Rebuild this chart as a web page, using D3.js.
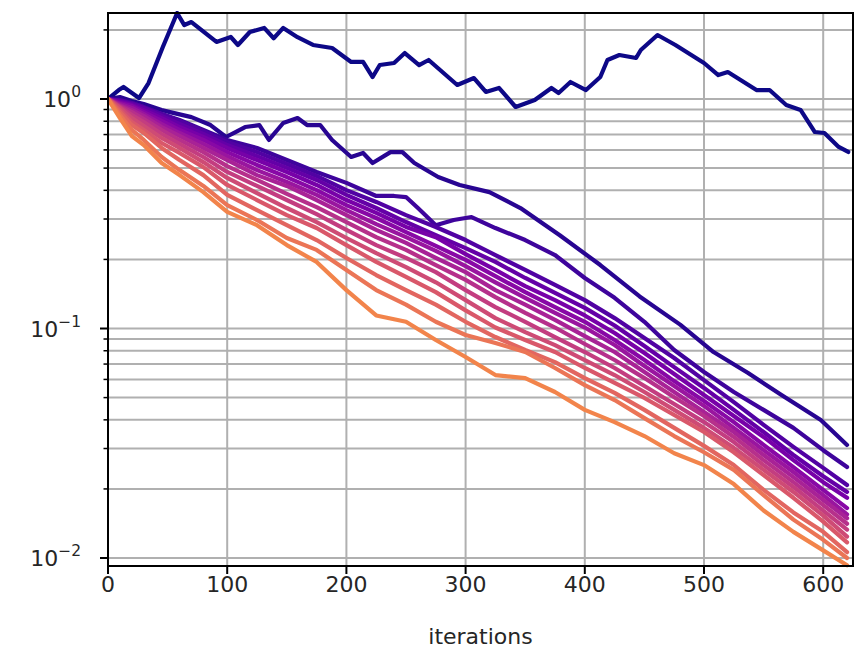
<!DOCTYPE html>
<html><head><meta charset="utf-8">
<script src="https://cdn.jsdelivr.net/npm/d3@7"></script>
<style>body{margin:0;background:#fff} svg{display:block} text{font-family:"DejaVu Sans",sans-serif;fill:#262626}</style>
</head><body><svg id="c" width="856" height="661"></svg>
<script>
// ---- data ----
const xTicks = [0,100,200,300,400,500,600];
const yMajorTicks = [0.01, 0.1, 1];
const yTickExp = ["\u22122", "\u22121", "0"];
const xLabel = "iterations";
const xLim = [0, 625];
const yLim = [0.00923, 2.37];

const run0Iters = [0,9,13,26,34,46,58,64,70,91,103,109,119,131,139,147,159,172,188,204,214,222,228,240,249,261,269,293,307,317,328,342,358,372,378,388,401,413,419,429,443,447,461,476,500,512,520,544,555,569,581,593,601,613,621];
const run0Vals = [1.0,1.094,1.128,1.010,1.174,1.685,2.37,2.10,2.165,1.772,1.863,1.719,1.958,2.04,1.84,2.04,1.86,1.72,1.668,1.45,1.45,1.247,1.406,1.435,1.586,1.406,1.479,1.151,1.234,1.073,1.117,0.923,0.990,1.117,1.062,1.186,1.094,1.247,1.479,1.555,1.509,1.635,1.90,1.719,1.435,1.272,1.311,1.094,1.094,0.942,0.896,0.718,0.711,0.618,0.588];

const run1Iters = [0,10,20,30,45,52,70,86,99,107,115,127,135,147,159,167,178,188,204,214,222,237,247,257,277,295,320,346,379,413,446,480,508,537,565,598,620];
const run1Vals = [1.0,1.020,0.980,0.951,0.895,0.877,0.834,0.770,0.683,0.718,0.755,0.770,0.663,0.786,0.826,0.770,0.770,0.663,0.559,0.582,0.526,0.587,0.587,0.526,0.457,0.422,0.393,0.335,0.255,0.189,0.138,0.104,0.0790,0.0640,0.0513,0.0399,0.0311];

const run2Iters = [0,10,20,30,45,60,80,100,125,150,175,200,225,240,250,260,275,290,305,325,350,375,400,425,450,475,500,525,550,575,600,620];
const run2Vals = [1.0,0.980,0.961,0.922,0.860,0.810,0.733,0.663,0.612,0.542,0.481,0.431,0.378,0.378,0.374,0.335,0.282,0.297,0.306,0.274,0.243,0.209,0.166,0.136,0.107,0.0806,0.0646,0.0529,0.0442,0.0369,0.0295,0.0249];

const gridIters = [0,10,20,30,45,60,80,100,125,150,175,200,225,250,275,300,325,350,375,400,425,450,475,500,525,550,575,600,620];
const run3Vals = [1.000,0.990,0.961,0.922,0.860,0.802,0.725,0.649,0.587,0.521,0.462,0.401,0.356,0.312,0.277,0.243,0.209,0.180,0.155,0.133,0.111,0.0909,0.0744,0.0596,0.0478,0.0380,0.0305,0.0247,0.0208];
const run4Vals = [1.000,0.980,0.951,0.914,0.843,0.778,0.704,0.630,0.564,0.501,0.444,0.382,0.335,0.291,0.255,0.224,0.195,0.166,0.143,0.123,0.103,0.0839,0.0679,0.0551,0.0442,0.0354,0.0281,0.0227,0.0194];
const run5Vals = [1.000,0.970,0.941,0.895,0.826,0.755,0.683,0.612,0.542,0.481,0.422,0.363,0.319,0.277,0.250,0.211,0.180,0.153,0.133,0.114,0.0956,0.0782,0.0633,0.0513,0.0416,0.0337,0.0267,0.0214,0.0183];
const run6Vals = [1.000,0.961,0.932,0.877,0.802,0.733,0.663,0.587,0.516,0.457,0.401,0.345,0.303,0.263,0.229,0.199,0.169,0.144,0.124,0.107,0.0891,0.0729,0.0590,0.0483,0.0391,0.0311,0.0249,0.0198,0.0165];
const run7Vals = [1.000,0.951,0.914,0.860,0.778,0.711,0.637,0.564,0.490,0.435,0.382,0.328,0.285,0.250,0.218,0.187,0.159,0.136,0.117,0.101,0.0847,0.0686,0.0562,0.0460,0.0369,0.0295,0.0237,0.0188,0.0155];
const run8Vals = [1.000,0.941,0.895,0.843,0.755,0.690,0.612,0.542,0.466,0.418,0.363,0.312,0.269,0.236,0.203,0.176,0.147,0.127,0.109,0.0927,0.0790,0.0646,0.0529,0.0433,0.0354,0.0281,0.0225,0.0179,0.0149];
const run9Vals = [1.000,0.932,0.877,0.818,0.733,0.663,0.587,0.510,0.444,0.386,0.338,0.291,0.250,0.220,0.189,0.163,0.137,0.117,0.101,0.0856,0.0729,0.0608,0.0502,0.0416,0.0337,0.0267,0.0214,0.0170,0.0141];
const run10Vals = [1.000,0.922,0.852,0.794,0.704,0.637,0.559,0.481,0.418,0.363,0.315,0.269,0.231,0.203,0.176,0.147,0.124,0.107,0.0918,0.0790,0.0673,0.0562,0.0469,0.0391,0.0320,0.0254,0.0204,0.0161,0.0133];
const run11Vals = [1.000,0.914,0.826,0.763,0.676,0.612,0.531,0.453,0.389,0.335,0.291,0.248,0.213,0.185,0.159,0.133,0.111,0.0965,0.0847,0.0729,0.0627,0.0529,0.0442,0.0369,0.0302,0.0242,0.0194,0.0153,0.0124];
const run12Vals = [1.000,0.895,0.794,0.733,0.643,0.582,0.505,0.422,0.363,0.312,0.274,0.231,0.195,0.168,0.144,0.120,0.101,0.0891,0.0790,0.0673,0.0579,0.0498,0.0420,0.0354,0.0289,0.0230,0.0183,0.0144,0.0117];
const run13Vals = [1.000,0.877,0.770,0.711,0.612,0.542,0.466,0.382,0.328,0.282,0.243,0.203,0.171,0.147,0.127,0.107,0.0918,0.0806,0.0714,0.0608,0.0524,0.0442,0.0369,0.0308,0.0254,0.0198,0.0158,0.0130,0.0106];
const run14Vals = [1.000,0.852,0.733,0.663,0.559,0.490,0.418,0.345,0.297,0.248,0.220,0.180,0.147,0.127,0.107,0.0937,0.0865,0.0790,0.0673,0.0567,0.0488,0.0407,0.0340,0.0289,0.0242,0.0188,0.0147,0.0120,0.0100];
const run15Vals = [1.000,0.826,0.690,0.630,0.526,0.466,0.393,0.322,0.282,0.231,0.195,0.147,0.114,0.107,0.0891,0.0751,0.0627,0.0608,0.0529,0.0442,0.0391,0.0340,0.0286,0.0254,0.0210,0.0161,0.0130,0.0108,0.0093];

// ---- build series ----
const series = [
  [run0Iters, run0Vals], [run1Iters, run1Vals], [run2Iters, run2Vals],
  [gridIters, run3Vals], [gridIters, run4Vals], [gridIters, run5Vals], [gridIters, run6Vals],
  [gridIters, run7Vals], [gridIters, run8Vals], [gridIters, run9Vals], [gridIters, run10Vals],
  [gridIters, run11Vals], [gridIters, run12Vals], [gridIters, run13Vals], [gridIters, run14Vals],
  [gridIters, run15Vals]
].map(([it, v]) => it.map((x, i) => ({x, y: v[i]})));

const M = {left: 108, right: 853, top: 13, bottom: 566};
const svg = d3.select("#c");
const x = d3.scaleLinear().domain(xLim).range([M.left, M.right]);
const y = d3.scaleLog().domain(yLim).range([M.bottom, M.top]);

const gridColor = "#b0b0b0";
const yAll = [];
for (let e = -2; e <= 0; e++) for (let m = 1; m <= 9; m++) {
  const v = m * Math.pow(10, e);
  if (v >= yLim[0] && v <= yLim[1]) yAll.push(v);
}
// grid
const g = svg.append("g");
g.selectAll("line.hg").data(yAll).join("line")
  .attr("x1", M.left).attr("x2", M.right)
  .attr("y1", d => y(d)).attr("y2", d => y(d))
  .attr("stroke", gridColor).attr("stroke-width", 2);
g.selectAll("line.vg").data(xTicks).join("line")
  .attr("y1", M.top).attr("y2", M.bottom)
  .attr("x1", d => x(d)).attr("x2", d => x(d))
  .attr("stroke", gridColor).attr("stroke-width", 2);

// lines
svg.append("clipPath").attr("id", "clip").append("rect")
  .attr("x", M.left).attr("y", M.top - 2).attr("width", M.right - M.left).attr("height", M.bottom - M.top + 4);
const line = d3.line().x(d => x(d.x)).y(d => y(d.y));
const n = series.length;
svg.append("g").attr("clip-path", "url(#clip)")
  .selectAll("path").data(series).join("path")
  .attr("d", line)
  .attr("fill", "none")
  .attr("stroke", (d, i) => d3.interpolatePlasma(i / (n - 1) * 0.7))
  .attr("stroke-width", 4.2)
  .attr("stroke-linejoin", "round")
  .attr("stroke-linecap", "round");

// spines
svg.append("rect").attr("x", M.left).attr("y", M.top)
  .attr("width", M.right - M.left).attr("height", M.bottom - M.top)
  .attr("fill", "none").attr("stroke", "#000").attr("stroke-width", 2);

// x axis ticks
const xa = svg.append("g");
xa.selectAll("line").data(xTicks).join("line")
  .attr("x1", d => x(d)).attr("x2", d => x(d))
  .attr("y1", M.bottom).attr("y2", M.bottom + 8)
  .attr("stroke", "#000").attr("stroke-width", 2);
xa.selectAll("text").data(xTicks).join("text")
  .attr("x", d => x(d)).attr("y", M.bottom + 26)
  .attr("text-anchor", "middle").attr("font-size", 22)
  .text(d => d);
svg.append("text").attr("x", (M.left + M.right) / 2).attr("y", 644)
  .attr("text-anchor", "middle").attr("font-size", 22).text(xLabel);

// y axis ticks
const ya = svg.append("g");
ya.selectAll("line").data(yAll).join("line")
  .attr("x1", d => yMajorTicks.includes(d) ? M.left - 8 : M.left - 4.5).attr("x2", M.left)
  .attr("y1", d => y(d)).attr("y2", d => y(d))
  .attr("stroke", "#000").attr("stroke-width", d => yMajorTicks.includes(d) ? 2 : 1.5);
const yt = ya.selectAll("text").data(yMajorTicks).join("text")
  .attr("x", 81).attr("y", d => y(d) + 8)
  .attr("text-anchor", "end").attr("font-size", 22);
yt.append("tspan").text("10");
yt.append("tspan").attr("dy", -10).attr("font-size", 15.5).text((d, i) => yTickExp[i]);
</script>
</body></html>
